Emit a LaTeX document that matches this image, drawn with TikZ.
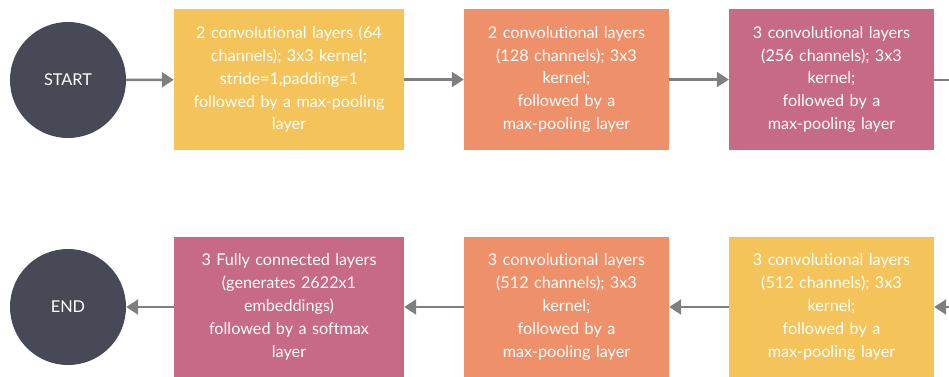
\documentclass[tikz,border=0pt]{standalone}
\usepackage{fontspec}
\setmainfont[Ligatures=NoCommon]{Lato}
\usetikzlibrary{arrows.meta}
\definecolor{cdark}{HTML}{474A56}
\definecolor{cyellow}{HTML}{F4C45A}
\definecolor{corange}{HTML}{EE916B}
\definecolor{cpink}{HTML}{C66A85}
\definecolor{carrow}{HTML}{7F7F7F}
\begin{document}
\begin{tikzpicture}[x=1pt,y=-1pt,
  term/.style={circle,fill=cdark,text=white,minimum size=116pt,inner sep=0pt,font=\fontsize{16.3}{18}\selectfont},
  layerbox/.style={rectangle,text=white,minimum height=141pt,inner sep=0pt,align=center,
    font=\fontsize{16.2}{22.8}\selectfont},
  wide/.style={minimum width=230pt,text width=226pt},
  narrow/.style={minimum width=205pt,text width=201pt},
  link/.style={draw=carrow,line width=2.5pt,-{Triangle[length=12pt,width=15pt]}},
  plainlink/.style={draw=carrow,line width=2.5pt}]
\useasboundingbox (0,0) rectangle (949,376);
\node[term] (start) at (68,80) {START};
\node[layerbox,wide,fill=cyellow] (b1) at (289,79.5) {2 convolutional layers (64\\channels); 3x3 kernel;\\stride=1,padding=1\\followed by a max-pooling\\layer};
\node[layerbox,narrow,fill=corange] (b2) at (566.5,79.5) {2 convolutional layers\\(128 channels); 3x3\\kernel;\\followed by a\\max-pooling layer};
\node[layerbox,narrow,fill=cpink] (b3) at (831.5,79.5) {3 convolutional layers\\(256 channels); 3x3\\kernel;\\followed by a\\max-pooling layer};
\node[term] (end) at (68,307) {END};
\node[layerbox,wide,fill=cpink] (b6) at (289,307) {3 Fully connected layers\\(generates 2622x1\\embeddings)\\followed by a softmax\\layer};
\node[layerbox,narrow,fill=corange] (b5) at (566.5,307) {3 convolutional layers\\(512 channels); 3x3\\kernel;\\followed by a\\max-pooling layer};
\node[layerbox,narrow,fill=cyellow] (b4) at (831.5,307) {3 convolutional layers\\(512 channels); 3x3\\kernel;\\followed by a\\max-pooling layer};
\coordinate (outtop) at (960,80);
\coordinate (inbot) at (960,307);
\draw[link] (start) -- (b1);
\draw[link] (b1) -- (b2);
\draw[link] (b2) -- (b3);
\draw[plainlink] (b3.east |- outtop) -- (outtop);
\draw[link] (inbot) -- (b4.east |- inbot);
\draw[link] (b4) -- (b5);
\draw[link] (b5) -- (b6);
\draw[link] (b6) -- (end);
\end{tikzpicture}
\end{document}
